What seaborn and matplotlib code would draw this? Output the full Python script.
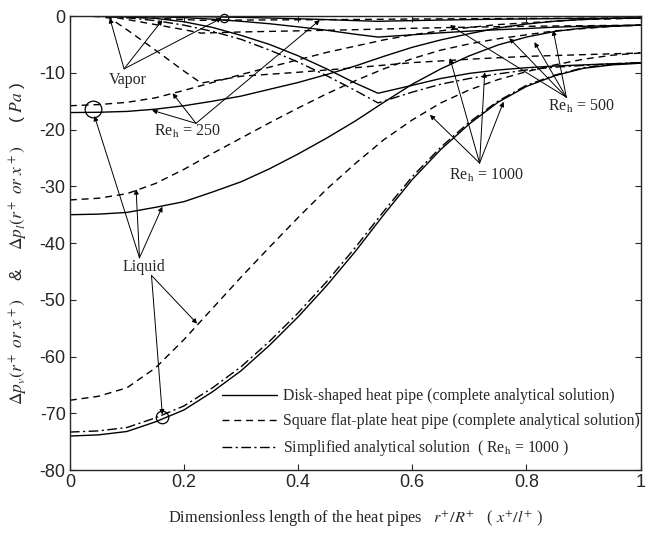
import numpy as np
import pandas as pd
import matplotlib.pyplot as plt
import seaborn as sns

sns.set_style('ticks')
plt.rcParams['font.family'] = ['Liberation Sans', 'DejaVu Sans']
plt.rcParams['mathtext.fontset'] = 'stix'
plt.rcParams['axes.unicode_minus'] = False

# liquid curves (common x grid)
x_liq = [0, 0.05, 0.1, 0.15, 0.2, 0.25, 0.3, 0.35, 0.4, 0.45, 0.5,
         0.55, 0.6, 0.65, 0.7, 0.75, 0.8, 0.85, 0.9, 0.95, 1.0]
disk_liq_1000 = [-74.0, -73.8, -73.2, -71.5, -69.4, -66.2, -62.5, -58.0, -53.0, -47.5, -41.5,
                 -35.0, -28.8, -23.5, -19.0, -15.2, -12.4, -10.5, -9.2, -8.6, -8.3]
disk_liq_500 = [-35.0, -34.9, -34.6, -33.7, -32.7, -31.0, -29.2, -26.9, -24.3, -21.5, -18.5,
                -15.2, -12.0, -9.3, -7.0, -5.1, -3.7, -2.7, -2.1, -1.8, -1.6]
disk_liq_250 = [-17.0, -16.95, -16.8, -16.4, -15.8, -15.0, -14.1, -12.9, -11.7, -10.3, -8.8,
                -7.1, -5.5, -4.2, -3.1, -2.1, -1.4, -0.9, -0.6, -0.4, -0.35]
simp_liq_1000 = [-73.3, -73.1, -72.5, -70.8, -68.7, -65.5, -61.8, -57.3, -52.3, -46.8, -40.8,
                 -34.4, -28.3, -23.1, -18.7, -15.0, -12.2, -10.4, -9.1, -8.5, -8.2]
sq_liq_1000 = [-67.7, -67.0, -65.5, -62.0, -57.0, -51.5, -46.0, -40.7, -35.5, -30.5, -26.0,
               -21.8, -18.3, -15.3, -13.0, -11.2, -9.8, -8.6, -7.6, -6.9, -6.5]
sq_liq_500 = [-32.4, -32.1, -31.3, -29.5, -27.0, -24.2, -21.5, -18.8, -16.2, -13.7, -11.4,
              -9.3, -7.5, -6.0, -4.9, -4.0, -3.3, -2.6, -2.2, -1.8, -1.6]
sq_liq_250 = [-15.8, -15.6, -15.2, -14.4, -13.1, -11.7, -10.3, -9.0, -7.7, -6.4, -5.3,
              -4.2, -3.3, -2.6, -2.0, -1.5, -1.2, -0.9, -0.6, -0.5, -0.35]

# vapor curves, disk-shaped
x_vap = [0, 0.05, 0.1, 0.15, 0.2, 0.25, 0.3, 0.35, 0.4, 0.45, 0.5,
         0.54, 0.6, 0.65, 0.7, 0.75, 0.8, 0.85, 0.9, 0.95, 1.0]
disk_vap_1000 = [0, -0.02, -0.15, -0.4, -1.0, -2.0, -3.4, -5.0, -7.0, -9.3, -11.8,
                 -13.6, -12.2, -11.0, -10.1, -9.5, -9.1, -8.8, -8.6, -8.4, -8.3]
simp_vap_1000 = [0, -0.05, -0.3, -0.8, -1.6, -2.7, -4.1, -6.0, -8.1, -10.5, -13.1,
                 -15.3, -13.4, -12.0, -11.0, -10.2, -9.5, -9.0, -8.7, -8.4, -8.2]
disk_vap_500 = [0, -0.01, -0.04, -0.11, -0.27, -0.55, -0.92, -1.35, -1.9, -2.5, -3.2,
                -3.7, -3.3, -2.95, -2.65, -2.4, -2.2, -1.95, -1.8, -1.7, -1.6]
disk_vap_250 = [0, 0, -0.01, -0.03, -0.07, -0.13, -0.23, -0.34, -0.47, -0.62, -0.8,
                -0.92, -0.8, -0.7, -0.62, -0.55, -0.5, -0.45, -0.4, -0.37, -0.35]

# vapor curves, square flat-plate
x_sq_vap = [0, 0.03, 0.05, 0.07, 0.1, 0.15, 0.2, 0.23, 0.3, 0.4, 0.5, 0.6, 0.7, 0.8, 0.9, 1.0]
sq_vap_1000 = [0, -0.02, -0.1, -0.35, -2.4, -6.0, -9.7, -11.8, -10.6, -9.9, -9.1, -8.2, -7.6, -7.1, -6.8, -6.5]
sq_vap_500 = [0, 0, -0.03, -0.1, -0.6, -1.5, -2.4, -3.0, -2.8, -2.6, -2.4, -2.15, -1.95, -1.8, -1.7, -1.6]
sq_vap_250 = [0, 0, -0.01, -0.02, -0.15, -0.38, -0.6, -0.75, -0.7, -0.65, -0.6, -0.52, -0.47, -0.42, -0.38, -0.35]

fig = plt.figure(figsize=(6.47, 5.36), dpi=100)
ax = fig.add_axes([0.108, 0.123, 0.882, 0.847])

solid = '-'
dashed = (0, (5, 3.5))
dashdot = (0, (7, 2.5, 1.5, 2.5))
curves = [
    (x_liq, disk_liq_1000, solid, 'Disk-shaped heat pipe (complete analytical solution)'),
    (x_liq, sq_liq_1000, dashed, 'Square flat-plate heat pipe (complete analytical solution)'),
    (x_liq, simp_liq_1000, dashdot, r'Simplified analytical solution  ( Re$_{\rm h}$ = 1000 )'),
    (x_liq, disk_liq_500, solid, None), (x_liq, disk_liq_250, solid, None),
    (x_liq, sq_liq_500, dashed, None), (x_liq, sq_liq_250, dashed, None),
    (x_vap, disk_vap_1000, solid, None), (x_vap, disk_vap_500, solid, None),
    (x_vap, disk_vap_250, solid, None), (x_vap, simp_vap_1000, dashdot, None),
    (x_sq_vap, sq_vap_1000, dashed, None), (x_sq_vap, sq_vap_500, dashed, None),
    (x_sq_vap, sq_vap_250, dashed, None),
]
for xs, ys, ls, lab in curves:
    sns.lineplot(x=xs, y=ys, ax=ax, color='black', lw=1.0, linestyle=ls, label=lab,
                 legend=lab is not None, sort=False)

ax.set_xlim(0, 1)
ax.set_ylim(-80, 0)
ax.set_xticks([0, 0.2, 0.4, 0.6, 0.8, 1.0])
ax.set_xticklabels(['0', '0.2', '0.4', '0.6', '0.8', '1'])
ax.set_yticks(range(-80, 1, 10))
ax.tick_params(direction='in', length=4, labelsize=13, right=True, top=True, pad=3)
for s in ax.spines.values():
    s.set_linewidth(1.0)

ax.set_xlabel(r'Dimensionless length of the heat pipes   $r^{+}/R^{+}$   ( $x^{+}/l^{+}$ )',
              family='Liberation Serif', fontsize=11.8, labelpad=12)
ax.set_ylabel(r'$\Delta p_v(r^+\ or\ x^+)$    &    $\Delta p_l(r^+\ or\ x^+)$     ( $Pa$ )',
              fontsize=12.5, labelpad=7)

leg = ax.legend(loc='lower left', bbox_to_anchor=(0.25, 0.005), frameon=False,
                prop={'family': 'Liberation Serif', 'size': 11.3}, handlelength=3.5,
                labelspacing=0.57, handletextpad=0.38, borderaxespad=0.2)

# annotations
serif = dict(family='Liberation Serif', fontsize=11.5, ha='center', va='center')
arrow = dict(arrowstyle='-|>', lw=0.7, color='black', mutation_scale=7, shrinkA=0, shrinkB=0)
labels = [
    ('Vapor', (0.101, -11.3), (0.095, -9.3), [(0.07, -0.35), (0.162, -0.7), (0.266, -0.35)]),
    (r'Re$_{\rm h}$ = 250', (0.205, -20.4), (0.221, -18.9), [(0.144, -16.6), (0.18, -13.6), (0.438, -0.7)]),
    ('Liquid', (0.129, -44.2), (0.122, -42.6), [(0.043, -17.6), (0.116, -30.5), (0.162, -33.6)]),
    (None, None, (0.143, -45.7), [(0.223, -54.2), (0.162, -70.2)]),
    (r'Re$_{\rm h}$ = 500', (0.896, -16.0), (0.87, -14.3), [(0.666, -1.6), (0.77, -3.9), (0.814, -4.6), (0.847, -2.5)]),
    (r'Re$_{\rm h}$ = 1000', (0.73, -28.0), (0.718, -25.9), [(0.631, -17.4), (0.666, -7.4), (0.727, -9.9), (0.76, -15.1)]),
]
for text, pos, base, tips in labels:
    if text:
        ax.text(pos[0], pos[1], text, **serif)
    for t in tips:
        ax.annotate('', xy=t, xytext=base, arrowprops=arrow)

circles = [(0.162, -70.7, 9), (0.04, -16.3, 12), (0.27, -0.3, 6)]
for cx, cy, ms in circles:
    ax.plot(cx, cy, marker='o', ms=ms, mfc='none', mec='black', mew=0.9, clip_on=False)

fig.savefig('out.png', dpi=100)
